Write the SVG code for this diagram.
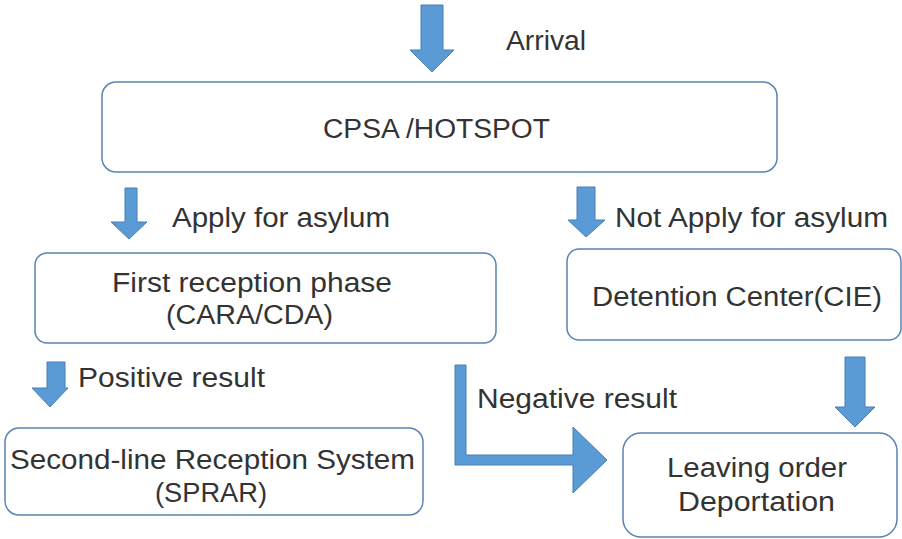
<svg xmlns="http://www.w3.org/2000/svg" width="902" height="539" viewBox="0 0 902 539">
<style>
.box{fill:#fff;stroke:#5a83b3;stroke-width:1.5}
.arr{fill:#5b9bd5;stroke:#4a7fb5;stroke-width:1}
text{font-family:"Liberation Sans",Arial,sans-serif;font-size:27px;fill:#333}
</style>
<rect width="902" height="539" fill="#fff"/>
<g id="connectors">
<polygon class="arr" points="421,5 443,5 443,50 454,50 432,72 410,50 421,50"/>
<polygon class="arr" points="125,188 137,188 137,222 147,222 129,239 111,222 125,222"/>
<polygon class="arr" points="577,187 595,187 595,220 605,220 586,237 568,220 577,220"/>
<polygon class="arr" points="47,362 65,362 65,388 68,388 50,407 32,388 47,388"/>
<polygon class="arr" points="455,365 466,365 466,455 573,455 573,427 607,460 573,493 573,465 455,465"/>
<polygon class="arr" points="845,357 865,357 865,407 875,407 855,427 835,407 845,407"/>
</g>
<g id="label-arrival"><text x="506" y="50" textLength="80" lengthAdjust="spacingAndGlyphs">Arrival</text></g>
<g id="label-apply"><text x="172" y="227" textLength="218" lengthAdjust="spacingAndGlyphs">Apply for asylum</text></g>
<g id="label-notapply"><text x="615" y="227" textLength="273" lengthAdjust="spacingAndGlyphs">Not Apply for asylum</text></g>
<g id="label-positive"><text x="78" y="387" textLength="187" lengthAdjust="spacingAndGlyphs">Positive result</text></g>
<g id="label-negative"><text x="477" y="408" textLength="200" lengthAdjust="spacingAndGlyphs">Negative result</text></g>
<g id="node-cpsa">
<rect class="box" x="102" y="82" width="675" height="90" rx="14"/>
<text x="323" y="138" textLength="227" lengthAdjust="spacingAndGlyphs">CPSA /HOTSPOT</text>
</g>
<g id="node-first">
<rect class="box" x="35" y="253" width="461" height="90" rx="12"/>
<text x="112" y="292" textLength="280" lengthAdjust="spacingAndGlyphs">First reception phase</text>
<text x="166" y="324" textLength="167" lengthAdjust="spacingAndGlyphs">(CARA/CDA)</text>
</g>
<g id="node-detention">
<rect class="box" x="567" y="249" width="334" height="91" rx="12"/>
<text x="592" y="306" textLength="290" lengthAdjust="spacingAndGlyphs">Detention Center(CIE)</text>
</g>
<g id="node-sprar">
<rect class="box" x="5" y="428" width="418" height="87" rx="14"/>
<text x="10" y="469" textLength="405" lengthAdjust="spacingAndGlyphs">Second-line Reception System</text>
<text x="155" y="502" textLength="112" lengthAdjust="spacingAndGlyphs">(SPRAR)</text>
</g>
<g id="node-leaving">
<rect class="box" x="623" y="433" width="274" height="104" rx="18"/>
<text x="667" y="477" textLength="180" lengthAdjust="spacingAndGlyphs">Leaving order</text>
<text x="678" y="511" textLength="157" lengthAdjust="spacingAndGlyphs">Deportation</text>
</g>
</svg>
